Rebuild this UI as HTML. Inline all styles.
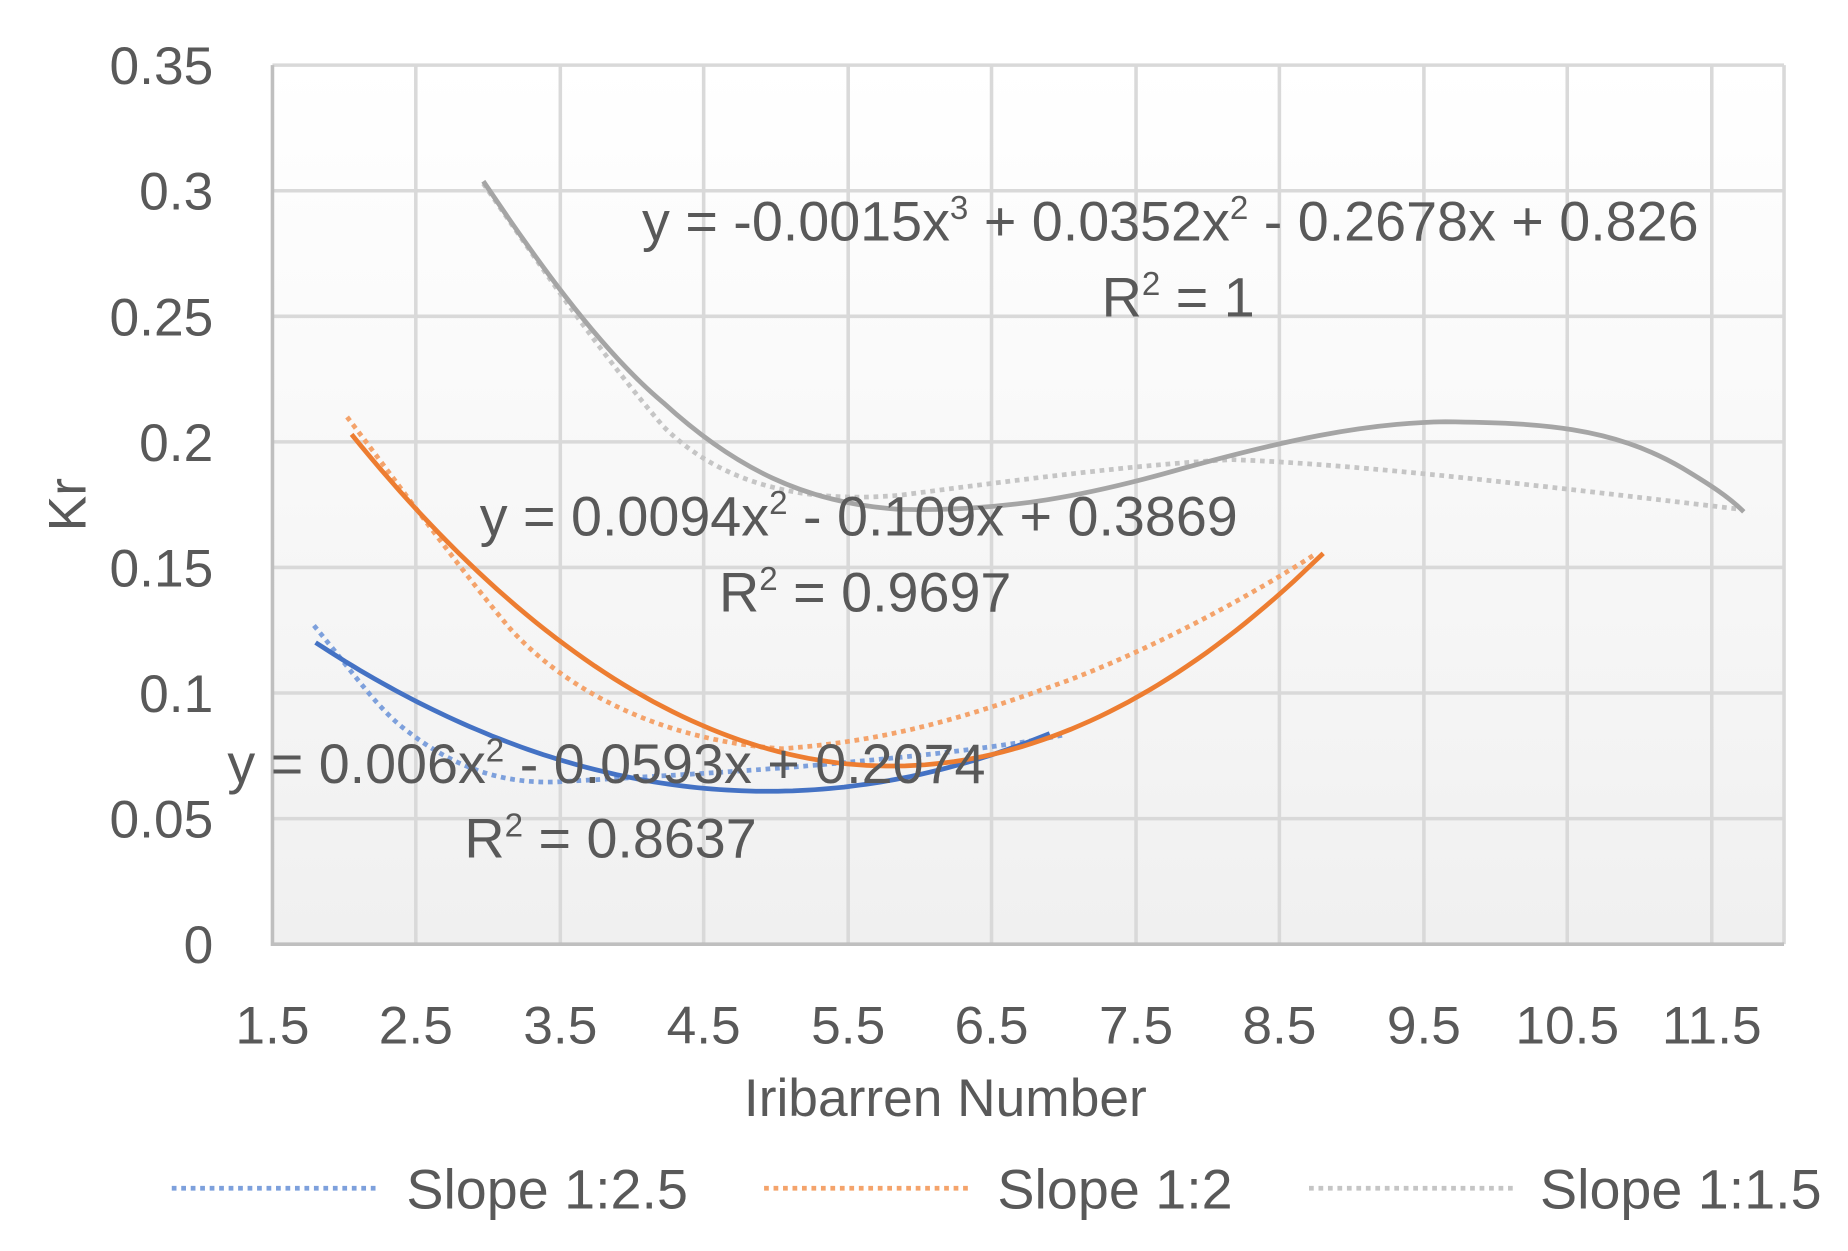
<!DOCTYPE html>
<html><head><meta charset="utf-8"><style>
html,body{margin:0;padding:0;background:#fff;}
svg{display:block;}
text{font-family:"Liberation Sans",sans-serif;fill:#595959;}
</style></head><body>
<svg id="s" width="1848" height="1251" viewBox="0 0 1560 1056" preserveAspectRatio="none" xmlns="http://www.w3.org/2000/svg">
<defs><linearGradient id="bg" x1="0" y1="0" x2="0" y2="1"><stop offset="0" stop-color="#ffffff"/><stop offset="1" stop-color="#f0f0f0"/></linearGradient></defs>
<rect x="230" y="55" width="1276" height="742" fill="url(#bg)"/>
<g stroke="#d9d9d9" stroke-width="3" fill="none">
<path d="M230 55H1506M230 161H1506M230 267H1506M230 373H1506M230 479H1506M230 585H1506M230 691H1506"/>
<path d="M351 55V797M473 55V797M594 55V797M716 55V797M837 55V797M959 55V797M1080 55V797M1202 55V797M1323 55V797M1445 55V797M1506 55V797"/>
</g>
<path d="M230 55V797H1506" stroke="#bfbfbf" stroke-width="3" fill="none"/>
<g font-size="45" text-anchor="end">
<text x="180" y="71">0.35</text><text x="180" y="177">0.3</text><text x="180" y="283">0.25</text><text x="180" y="389">0.2</text><text x="180" y="495">0.15</text><text x="180" y="601">0.1</text><text x="180" y="707">0.05</text><text x="180" y="813">0</text>
</g>
<g font-size="45" text-anchor="middle">
<text x="230" y="881">1.5</text><text x="351" y="881">2.5</text><text x="473" y="881">3.5</text><text x="594" y="881">4.5</text><text x="716" y="881">5.5</text><text x="837" y="881">6.5</text><text x="959" y="881">7.5</text><text x="1080" y="881">8.5</text><text x="1202" y="881">9.5</text><text x="1323" y="881">10.5</text><text x="1445" y="881">11.5</text>
<text x="798" y="942">Iribarren Number</text>
</g>
<text x="72" y="426" font-size="45" text-anchor="middle" transform="rotate(-90 72 426)">Kr</text>
<g fill="none" stroke-width="4" stroke-dasharray="4 4">
<path stroke="#7da0dc" d="M265 528 C300 570 320 600 345 618 C380 645 420 662 470 660 C560 655 650 650 720 643 C800 636 860 628 900 620"/>
<path stroke="#f4a36b" d="M293 352 C330 400 380 470 430 530 C480 585 560 625 660 632 C760 625 830 600 900 575 C980 545 1060 500 1110 468"/>
<path stroke="#c5c5c5" d="M408 155 C450 215 500 290 560 360 C610 410 680 425 760 418 C860 405 960 392 1040 388 C1150 392 1300 410 1470 430"/>
</g>
<g id="trends" fill="none" stroke-width="4"></g>
<path fill="none" stroke="#a5a5a5" stroke-width="4" d="M408 153 C440 200 500 290 560 340 C620 395 680 425 760 430 C850 432 920 418 1000 395 C1080 373 1150 357 1220 356 C1300 357 1360 360 1420 395 C1445 410 1460 420 1472 432"/>
<g font-size="47">
<text x="542" y="203">y = -0.0015x<tspan font-size="28" dy="-18">3</tspan><tspan dy="18"> + 0.0352x</tspan><tspan font-size="28" dy="-18">2</tspan><tspan dy="18"> - 0.2678x + 0.826</tspan></text>
<text x="930" y="267">R<tspan font-size="28" dy="-18">2</tspan><tspan dy="18"> = 1</tspan></text>
<text x="405" y="452">y = 0.0094x<tspan font-size="28" dy="-18">2</tspan><tspan dy="18"> - 0.109x + 0.3869</tspan></text>
<text x="607" y="516">R<tspan font-size="28" dy="-18">2</tspan><tspan dy="18"> = 0.9697</tspan></text>
<text x="192" y="661">y = 0.006x<tspan font-size="28" dy="-18">2</tspan><tspan dy="18"> - 0.0593x + 0.2074</tspan></text>
<text x="392" y="724">R<tspan font-size="28" dy="-18">2</tspan><tspan dy="18"> = 0.8637</tspan></text>
</g>
<g stroke-width="4" stroke-dasharray="4 4">
<line x1="145" y1="1003" x2="320" y2="1003" stroke="#7da0dc"/>
<line x1="645" y1="1003" x2="820" y2="1003" stroke="#f4a36b"/>
<line x1="1105" y1="1003" x2="1280" y2="1003" stroke="#c5c5c5"/>
</g>
<g font-size="47">
<text x="343" y="1020">Slope 1:2.5</text><text x="842" y="1020">Slope 1:2</text><text x="1300" y="1020">Slope 1:1.5</text>
</g>
</svg>
<script>
(function(){
function px(x){return 230+(x-1.5)*121.5;}function py(y){return 797-y*2120;}
function mk(f,a,b,c){var d='';for(var i=0;i<=100;i++){var x=a+(b-a)*i/100;d+=(i?'L':'M')+px(x).toFixed(1)+' '+py(f(x)).toFixed(1);}
var p=document.createElementNS('http://www.w3.org/2000/svg','path');p.setAttribute('d',d);p.setAttribute('stroke',c);document.getElementById('trends').appendChild(p);}
mk(function(x){return 0.006*x*x-0.0593*x+0.2074},1.8,6.9,'#4472c4');
mk(function(x){return 0.0094*x*x-0.109*x+0.3869},2.05,8.8,'#ed7d31');
})();
</script>
</body></html>
